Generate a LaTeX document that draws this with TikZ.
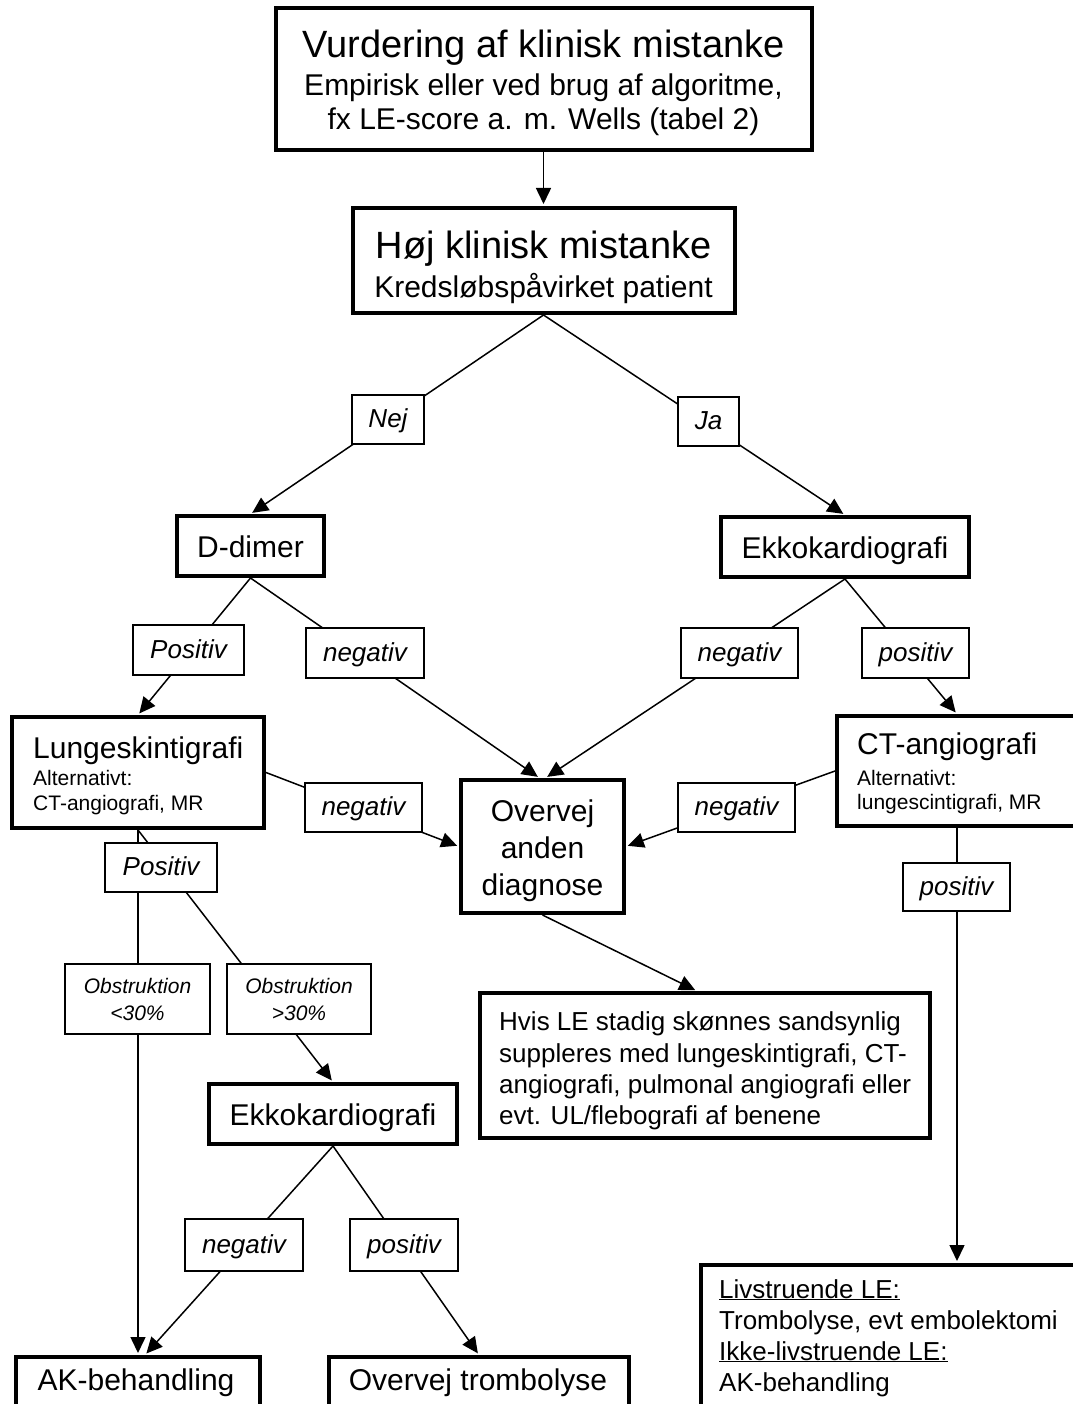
\documentclass[tikz,border=0pt]{standalone}
\usepackage{fontspec}
\setmainfont{Liberation Sans}
\usetikzlibrary{arrows.meta,backgrounds}
\newcommand\szTitle{\fontsize{38}{44}\selectfont}
\newcommand\szMain{\fontsize{30}{36}\selectfont}
\newcommand\szLbl{\fontsize{26}{30}\selectfont}
\newcommand\szSmall{\fontsize{21}{25}\selectfont}
\newcommand\szObs{\fontsize{21}{27}\selectfont}
\begin{document}
\begin{tikzpicture}[x=1pt,y=-1pt,
  box/.style={draw,line width=4pt,fill=white,inner sep=0pt},
  mbox/.style={box,font=\szMain,text height=22pt,text depth=0pt},
  lbl/.style={draw,line width=1.3pt,fill=white,inner sep=0pt,font=\szLbl\itshape,text height=20pt,text depth=4pt},
  obs/.style={draw,line width=1.3pt,fill=white,inner sep=0pt,align=center,font=\szObs\itshape},
  txt/.style={inner sep=0pt,anchor=base},
  txtl/.style={inner sep=0pt,anchor=base west},
  conn/.style={line width=1.5pt},
  arr/.style={conn,-{Triangle[length=16pt,width=15pt]},shorten >=2pt},
]
\useasboundingbox (0,0) rectangle (1072,1404);

% top boxes
\node[box,minimum width=536pt,minimum height=142pt] (A) at (543.5,79) {};
\node[txt,font=\szTitle] (At1) at (543.5,58) {Vurdering af klinisk mistanke};
\node[txt,font=\szMain] (At2) at (543.5,96) {Empirisk eller ved brug af algoritme,};
\node[txt,font=\szMain] (At3) at (543.5,130) {fx LE-score a. m. Wells (tabel 2)};

\node[box,minimum width=382pt,minimum height=105pt] (B) at (543.5,260.5) {};
\node[txt,font=\szTitle] (Bt1) at (543.5,259) {Høj klinisk mistanke};
\node[txt,font=\szMain] (Bt2) at (543.5,298) {Kredsløbspåvirket patient};

\node[lbl,minimum width=72pt,minimum height=49pt] (nej) at (388,419.5) {Nej};
\node[lbl,minimum width=61pt,minimum height=49pt] (ja) at (708.5,421.5) {Ja};

\node[mbox,minimum width=147pt,minimum height=60pt] (Dd) at (250.5,546) {D-dimer};
\node[mbox,minimum width=248pt,minimum height=60pt] (E1) at (845,547) {Ekkokardiografi};

\node[lbl,minimum width=111pt,minimum height=50pt] (pos1) at (188.5,650) {Positiv};
\node[lbl,minimum width=118pt,minimum height=50pt] (negL) at (365,653) {negativ};
\node[lbl,minimum width=117pt,minimum height=50pt] (negR) at (739.5,653) {negativ};
\node[lbl,minimum width=107pt,minimum height=50pt] (posR) at (915.5,653) {positiv};

% middle row
\node[box,minimum width=252pt,minimum height=111pt] (L) at (138,772.5) {};
\node[txtl,font=\szMain] (Lt1) at (33,758) {Lungeskintigrafi};
\node[txtl,font=\szSmall] (Lt2) at (33,785) {Alternativt:};
\node[txtl,font=\szSmall] (Lt3) at (33,810) {CT-angiografi, MR};

\node[lbl,minimum width=117pt,minimum height=49pt] (negL2) at (363.5,807.5) {negativ};

\node[box,minimum width=163pt,minimum height=133pt] (O) at (542.5,846.5) {};
\node[txt,font=\szMain] (Ot1) at (542.5,821) {Overvej};
\node[txt,font=\szMain] (Ot2) at (542.5,858) {anden};
\node[txt,font=\szMain] (Ot3) at (542.5,895) {diagnose};

\node[lbl,minimum width=117pt,minimum height=49pt] (negR2) at (736.5,807.5) {negativ};

\node[box,minimum width=240pt,minimum height=110pt] (CT) at (957,771) {};
\node[txtl,font=\szMain] (CTt1) at (857,754) {CT-angiografi};
\node[txtl,font=\szSmall] (CTt2) at (857,785) {Alternativt:};
\node[txtl,font=\szSmall] (CTt3) at (857,809) {lungescintigrafi, MR};

\node[lbl,minimum width=112pt,minimum height=49pt] (pos2) at (161,867.5) {Positiv};
\node[lbl,minimum width=107pt,minimum height=48pt] (posR2) at (956.5,887) {positiv};

\node[obs,minimum width=145pt,minimum height=70pt] (obs1) at (137.5,999) {Obstruktion\\<30\%};
\node[obs,minimum width=144pt,minimum height=70pt] (obs2) at (299,999) {Obstruktion\\>30\%};

\node[box,minimum width=450pt,minimum height=145pt] (Hvis) at (705,1065.5) {};
\node[txtl,font=\szLbl] (Ht1) at (499,1030) {Hvis LE stadig skønnes sandsynlig};
\node[txtl,font=\szLbl] (Ht2) at (499,1062) {suppleres med lungeskintigrafi, CT-};
\node[txtl,font=\szLbl] (Ht3) at (499,1093) {angiografi, pulmonal angiografi eller};
\node[txtl,font=\szLbl] (Ht4) at (499,1124) {evt. UL/flebografi af benene};

\node[mbox,minimum width=248pt,minimum height=60pt] (E2) at (333,1114) {Ekkokardiografi};

\node[lbl,minimum width=118pt,minimum height=52pt] (negE2) at (244,1245) {negativ};
\node[lbl,minimum width=108pt,minimum height=52pt] (posE2) at (404,1245) {positiv};

% bottom boxes
\node[box,anchor=north,minimum width=244pt,minimum height=90pt] (AK) at (138,1355) {};
\node[txt,font=\szMain] (AKt) at (136,1390) {AK-behandling};
\node[box,anchor=north,minimum width=300pt,minimum height=90pt] (Trom) at (479,1355) {};
\node[txt,font=\szMain] (Tromt) at (478,1390) {Overvej trombolyse};

\node[box,anchor=north west,minimum width=420pt,minimum height=200pt] (Livs) at (699,1263) {};
\node[txtl,font=\szLbl] (Lv1) at (719,1298) {\underline{Livstruende LE:}};
\node[txtl,font=\szLbl] (Lv2) at (719,1329) {Trombolyse, evt embolektomi};
\node[txtl,font=\szLbl] (Lv3) at (719,1360) {\underline{Ikke-livstruende LE:}};
\node[txtl,font=\szLbl] (Lv4) at (719,1391) {AK-behandling};

\begin{scope}[on background layer]
\fill[white] (0,0) rectangle (1072,1404);
\draw[arr] (A.south) -- (B.north);
\draw[arr] (B.south) -- (Dd.north);
\draw[arr] (B.south) -- (E1.north);
\draw[arr] (Dd.south) -- (L.north);
\draw[arr] (Dd.south) -- ([xshift=-3pt]O.north);
\draw[arr] (E1.south) -- ([xshift=3pt]O.north);
\draw[arr] (E1.south) -- (CT.north);
\draw[arr] (L.east) -- (O.west);
\draw[arr] (CT.west) -- (O.east);
\draw[arr] (L.south) -- (AK.north);
\draw[arr] (L.south) -- (E2.north);
\draw[arr] (O.south) -- ([xshift=-8pt]Hvis.north);
\draw[arr] (CT.south) -- (CT.south |- Livs.north);
\draw[arr] (E2.south) -- ([xshift=7pt]AK.north);
\draw[arr] (E2.south) -- (Trom.north);
\end{scope}
\end{tikzpicture}
\end{document}
